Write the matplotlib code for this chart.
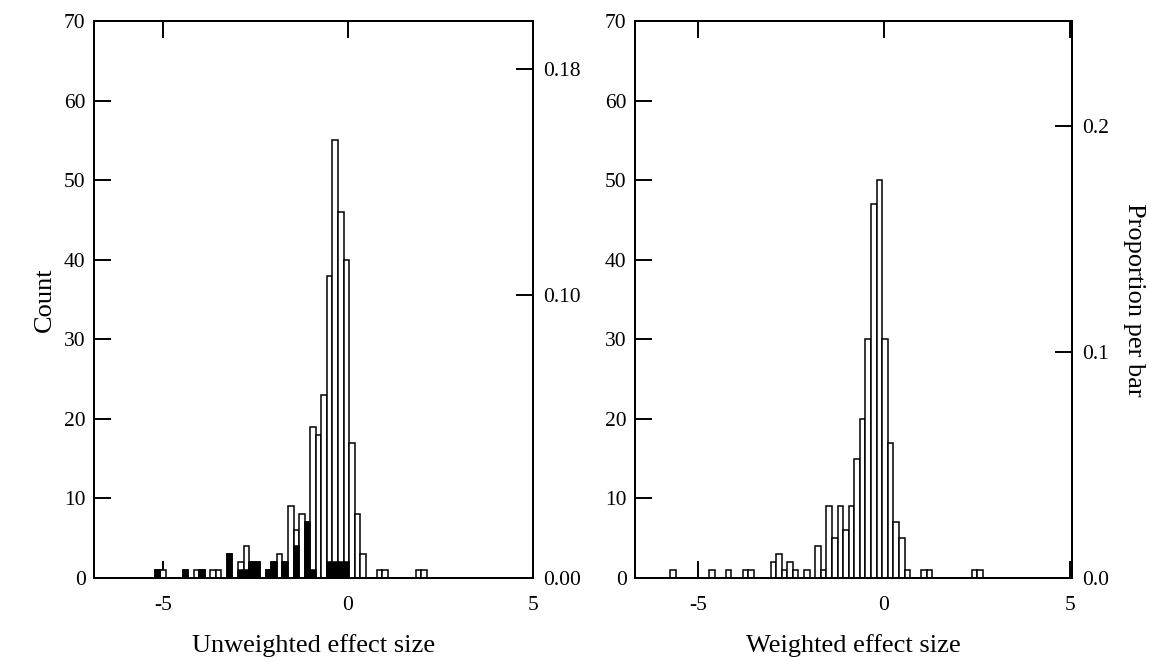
import numpy as np
import matplotlib
matplotlib.use("Agg")
import matplotlib.pyplot as plt

plt.rcParams['font.family'] = ['Liberation Serif', 'DejaVu Serif']

# left panel: unweighted effect size, bins of 0.15 starting at -5.22
bin_width = 0.15
unw_start = -5.22
unw_total = [1, 1, 0, 0, 0, 1, 0, 1, 1, 0, 1, 1, 0, 3, 0, 2, 4, 2, 2, 0,
             1, 2, 3, 2, 9, 6, 8, 7, 19, 18, 23, 38, 55, 46, 40, 17, 8, 3,
             0, 0, 1, 1, 0, 0, 0, 0, 0, 1, 1]
unw_black = [1, 0, 0, 0, 0, 1, 0, 0, 1, 0, 0, 0, 0, 3, 0, 1, 1, 2, 2, 0,
             1, 2, 0, 2, 0, 4, 0, 7, 1, 0, 0, 2, 2, 2, 2, 0, 0, 0,
             0, 0, 0, 0, 0, 0, 0, 0, 0, 0, 0]
unw_n = 355

# right panel: weighted effect size, bins of 0.15 starting at -5.75
w_start = -5.75
w_total = [1, 0, 0, 0, 0, 0, 0, 1, 0, 0, 1, 0, 0, 1, 1, 0, 0, 0, 2, 3,
           1, 2, 1, 0, 1, 0, 4, 1, 9, 5, 9, 6, 9, 15, 20, 30, 47, 50, 30, 17,
           7, 5, 1, 0, 0, 1, 1, 0, 0, 0, 0, 0, 0, 0, 1, 1]
w_n = 284

xticks = [-5, 0, 5]
count_ticks = list(range(0, 80, 10))

fig = plt.figure(figsize=(11.51, 6.61), dpi=100)
ax1 = fig.add_axes([0.0817, 0.1256, 0.3814, 0.8427])
ax2 = fig.add_axes([0.5517, 0.1256, 0.3797, 0.8427])


def draw_hist(ax, start, total, black=None):
    total = np.array(total)
    lefts = start + bin_width * np.arange(len(total))
    keep = total > 0
    ax.bar(lefts[keep], total[keep], width=bin_width, align='edge',
           color='white', edgecolor='black', linewidth=1.1, zorder=2)
    if black is not None:
        black = np.array(black)
        kb = black > 0
        ax.bar(lefts[kb], black[kb], width=bin_width, align='edge',
               color='black', edgecolor='black', linewidth=1.1, zorder=3)


def style(ax, xlim, n, pticks, pfmt, xlabel):
    ax.set_xlim(*xlim)
    ax.set_ylim(0, 70)
    ax.set_xticks(xticks)
    ax.set_xticklabels(['-5', '0', '5'])
    ax.set_yticks(count_ticks)
    ax.tick_params(direction='in', length=12, width=1.4, labelsize=15.5,
                   top=True, right=False)
    ax.tick_params(axis='x', pad=13)
    ax.tick_params(axis='y', pad=6)
    for s in ax.spines.values():
        s.set_linewidth(1.4)
    ax.set_xlabel(xlabel, fontsize=19, labelpad=14)
    twin = ax.twinx()
    twin.set_ylim(0, 70 / n)
    twin.set_yticks(pticks)
    twin.set_yticklabels([pfmt % p for p in pticks])
    twin.tick_params(direction='in', length=12, width=1.4, labelsize=15.5, pad=7)
    for s in twin.spines.values():
        s.set_linewidth(1.4)
    return twin


draw_hist(ax1, unw_start, unw_total, unw_black)
draw_hist(ax2, w_start, w_total)

style(ax1, (-6.86, 4.94), unw_n, [0.0, 0.10, 0.18], '%.2f', 'Unweighted effect size')
t2 = style(ax2, (-6.69, 5.05), w_n, [0.0, 0.1, 0.2], '%.1f', 'Weighted effect size')

ax1.set_ylabel('Count', fontsize=19, labelpad=6)
t2.set_ylabel('Proportion per bar', fontsize=19, rotation=270, labelpad=26)

fig.savefig('out.png', dpi=100)
